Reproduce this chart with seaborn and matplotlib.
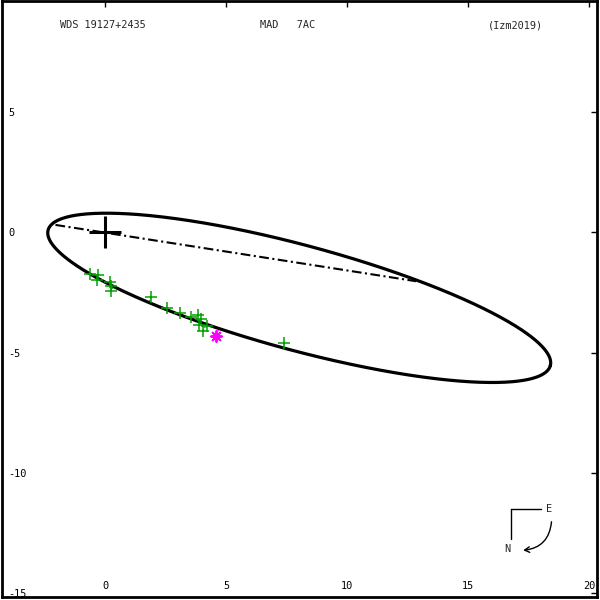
import numpy as np
import pandas as pd
import seaborn as sns
import matplotlib
matplotlib.use("Agg")
import matplotlib.pyplot as plt
from matplotlib.patches import FancyArrowPatch
from matplotlib.lines import Line2D

# ---------------- data ----------------
# apparent orbit ellipse (arcsec): centre, semi-axes, orientation (deg)
orbit_center = [8.02, -2.72]
orbit_axes = [10.75, 2.18]
orbit_angle = -15.2

# line of nodes end points
node_x = [-2.05, 12.85]
node_y = [0.31, -2.03]

# micrometric / speckle measurements (green +)
meas_x = [-0.62, -0.29, -0.33, 0.21, 0.25, 0.25, 1.90, 2.55, 3.10, 3.54,
          3.83, 3.97, 3.86, 4.06, 4.20, 7.40]
meas_y = [-1.74, -1.78, -1.99, -2.07, -2.24, -2.45, -2.70, -3.14, -3.35, -3.53,
          -3.44, -3.62, -3.83, -4.08, -3.90, -4.61]

# other measurement (magenta asterisk)
other_x = [4.59]
other_y = [-4.32]

x_ticks = [0, 5, 10, 15, 20]
y_ticks = [5, 0, -5, -10, -15]

title_left = "WDS 19127+2435"
title_mid = "MAD   7AC"
title_right = "(Izm2019)"

# ---------------- style ----------------
sns.set_theme(style="white")
plt.rcParams["font.family"] = ["DejaVu Sans Mono"]
plt.rcParams["lines.scale_dashes"] = False
FS = 7.4

fig = plt.figure(figsize=(6, 6), dpi=100)
ax = fig.add_axes([0.0033, 0.005, 0.992, 0.994])

# orbit ellipse
t = np.linspace(0, 2 * np.pi, 721)
th = np.radians(orbit_angle)
a, b = orbit_axes
ex = orbit_center[0] + a * np.cos(t) * np.cos(th) - b * np.sin(t) * np.sin(th)
ey = orbit_center[1] + a * np.cos(t) * np.sin(th) + b * np.sin(t) * np.cos(th)
orbit_df = pd.DataFrame({"x": ex, "y": ey, "o": np.arange(len(ex))})
sns.lineplot(data=orbit_df, x="x", y="y", sort=False, estimator=None,
             color="black", lw=2.3, ax=ax)

# line of nodes
ax.plot(node_x, node_y, color="black", lw=1.5, dashes=[7, 2.5, 1.5, 2.5])

# residual lines (measurement -> nearest orbit point)
for mx, my in zip(meas_x, meas_y):
    k = np.argmin((ex - mx) ** 2 + (ey - my) ** 2)
    ax.plot([mx, ex[k]], [my, ey[k]], color="#00a000", lw=0.9, ls=(0, (1, 1)))
for mx, my in zip(other_x, other_y):
    k = np.argmin((ex - mx) ** 2 + (ey - my) ** 2)
    ax.plot([mx, ex[k]], [my, ey[k]], color="#ff00ff", lw=0.9, ls=(0, (1, 1)))

meas_df = pd.DataFrame({"x": meas_x, "y": meas_y})
sns.scatterplot(data=meas_df, x="x", y="y", marker="+", s=70, color="#00a000",
                linewidth=1.1, ax=ax, zorder=5)
other_df = pd.DataFrame({"x": other_x, "y": other_y})
sns.scatterplot(data=other_df, x="x", y="y", marker=(8, 2, 0), s=60,
                color="#ff00ff", linewidth=1.4, ax=ax, zorder=5)

# primary star cross
ax.plot([0], [0], marker="+", ms=22.5, mew=2.2, color="black", zorder=6)

ax.set_xlim(-4.26, 20.33)
ax.set_ylim(-15.15, 9.63)
ax.set_aspect("auto")
ax.set_xlabel("")
ax.set_ylabel("")
ax.set_xticks(x_ticks)
ax.set_yticks(y_ticks)
ax.set_xticklabels([str(v) for v in x_ticks])
ax.set_yticklabels([str(v) for v in y_ticks])
ax.tick_params(axis="both", direction="in", length=4.5, width=1.0, color="black",
               top=True, right=True, labelsize=FS, labelcolor="black")
ax.tick_params(axis="x", pad=-4)
ax.tick_params(axis="y", pad=-4.5)
for lab in ax.get_xticklabels():
    lab.set_verticalalignment("bottom")
for lab in ax.get_yticklabels():
    lab.set_horizontalalignment("left")
for sp in ax.spines.values():
    sp.set_visible(True)
    sp.set_color("black")
    sp.set_linewidth(2.0)


def fp(x, y):
    return (x / 600.0, 1 - y / 600.0)


fig.text(*fp(60.5, 25), title_left, fontsize=FS, ha="left", va="center")
fig.text(*fp(260.5, 25), title_mid, fontsize=FS, ha="left", va="center")
fig.text(*fp(487.5, 25), title_right, fontsize=FS, ha="left", va="center")

# compass
fig.add_artist(Line2D([510.7 / 600, 540.7 / 600], [1 - 509 / 600, 1 - 509 / 600],
                      color="black", lw=1.0))
fig.add_artist(Line2D([510.7 / 600, 510.7 / 600], [1 - 509 / 600, 1 - 538.5 / 600],
                      color="black", lw=1.0))
fig.text(*fp(549.3, 509.5), "E", fontsize=FS, ha="center", va="center")
fig.text(*fp(507.5, 549.5), "N", fontsize=FS, ha="center", va="center")
arr = FancyArrowPatch(fp(551.7, 519), fp(520.5, 550.5), transform=fig.transFigure,
                      connectionstyle="arc3,rad=-0.45", arrowstyle="->,head_length=3.5,head_width=2",
                      color="black", lw=1.0)
fig.add_artist(arr)

fig.savefig("out.png", dpi=100)
